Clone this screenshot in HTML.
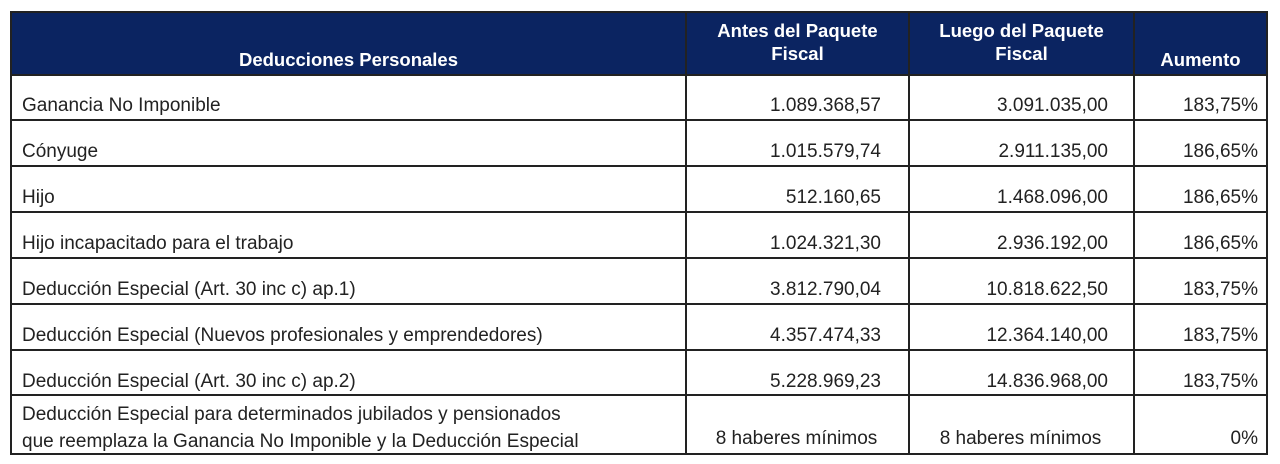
<!DOCTYPE html>
<html><head><meta charset="utf-8"><style>
body{margin:0;width:1280px;height:464px;background:#fff;position:relative;overflow:hidden;font-family:"Liberation Sans",sans-serif;}
.t{position:absolute;left:10px;top:11px;width:1258px;height:444px;border:2px solid #222;box-sizing:border-box;}
.h{position:absolute;left:0;top:0;width:1254px;height:62px;background:#0b2461;}
.c{position:absolute;box-sizing:border-box;font-size:19px;color:#222;white-space:nowrap;}
.hd{color:#fff;font-weight:bold;text-align:center;font-size:18.5px;line-height:23px;}
.vl{position:absolute;top:0;width:2px;height:440px;background:#222;}
.hl{position:absolute;left:0;width:1254px;height:2px;background:#222;}
</style></head><body>
<div class="t">
<div class="h"></div>
<div class="vl" style="left:673px"></div>
<div class="vl" style="left:896px"></div>
<div class="vl" style="left:1121px"></div>
<div class="hl" style="top:61px"></div>
<div class="hl" style="top:106px"></div>
<div class="hl" style="top:152px"></div>
<div class="hl" style="top:198px"></div>
<div class="hl" style="top:244px"></div>
<div class="hl" style="top:290px"></div>
<div class="hl" style="top:336px"></div>
<div class="hl" style="top:381px"></div>

<div class="c hd" style="left:0;width:673px;top:35px">Deducciones Personales</div>
<div class="c hd" style="left:675px;width:221px;top:6px">Antes del Paquete<br>Fiscal</div>
<div class="c hd" style="left:898px;width:223px;top:6px">Luego del Paquete<br>Fiscal</div>
<div class="c hd" style="left:1123px;width:131px;top:35px">Aumento</div>
</div>
<div id="rows"></div>
<script>
var d=[["Ganancia No Imponible","1.089.368,57","3.091.035,00","183,75%"],
["Cónyuge","1.015.579,74","2.911.135,00","186,65%"],
["Hijo","512.160,65","1.468.096,00","186,65%"],
["Hijo incapacitado para el trabajo","1.024.321,30","2.936.192,00","186,65%"],
["Deducción Especial (Art. 30 inc c) ap.1)","3.812.790,04","10.818.622,50","183,75%"],
["Deducción Especial (Nuevos profesionales y emprendedores)","4.357.474,33","12.364.140,00","183,75%"],
["Deducción Especial (Art. 30 inc c) ap.2)","5.228.969,23","14.836.968,00","183,75%"]];
var h="";
d.forEach(function(r,i){var y=95+i*46;
h+='<div class="c" style="left:22px;top:'+y+'px">'+r[0]+'</div>';
h+='<div class="c" style="left:685px;width:196px;text-align:right;top:'+y+'px">'+r[1]+'</div>';
h+='<div class="c" style="left:908px;width:200px;text-align:right;top:'+y+'px">'+r[2]+'</div>';
h+='<div class="c" style="left:1133px;width:125px;text-align:right;top:'+y+'px">'+r[3]+'</div>';});
h+='<div class="c" style="left:22px;top:401px;line-height:27px">Deducción Especial para determinados jubilados y pensionados<br>que reemplaza la Ganancia No Imponible y la Deducción Especial</div>';
h+='<div class="c" style="left:685px;width:223px;text-align:center;top:428px">8 haberes mínimos</div>';
h+='<div class="c" style="left:908px;width:225px;text-align:center;top:428px">8 haberes mínimos</div>';
h+='<div class="c" style="left:1133px;width:125px;text-align:right;top:428px">0%</div>';
document.getElementById("rows").innerHTML=h;
</script>
</body></html>
